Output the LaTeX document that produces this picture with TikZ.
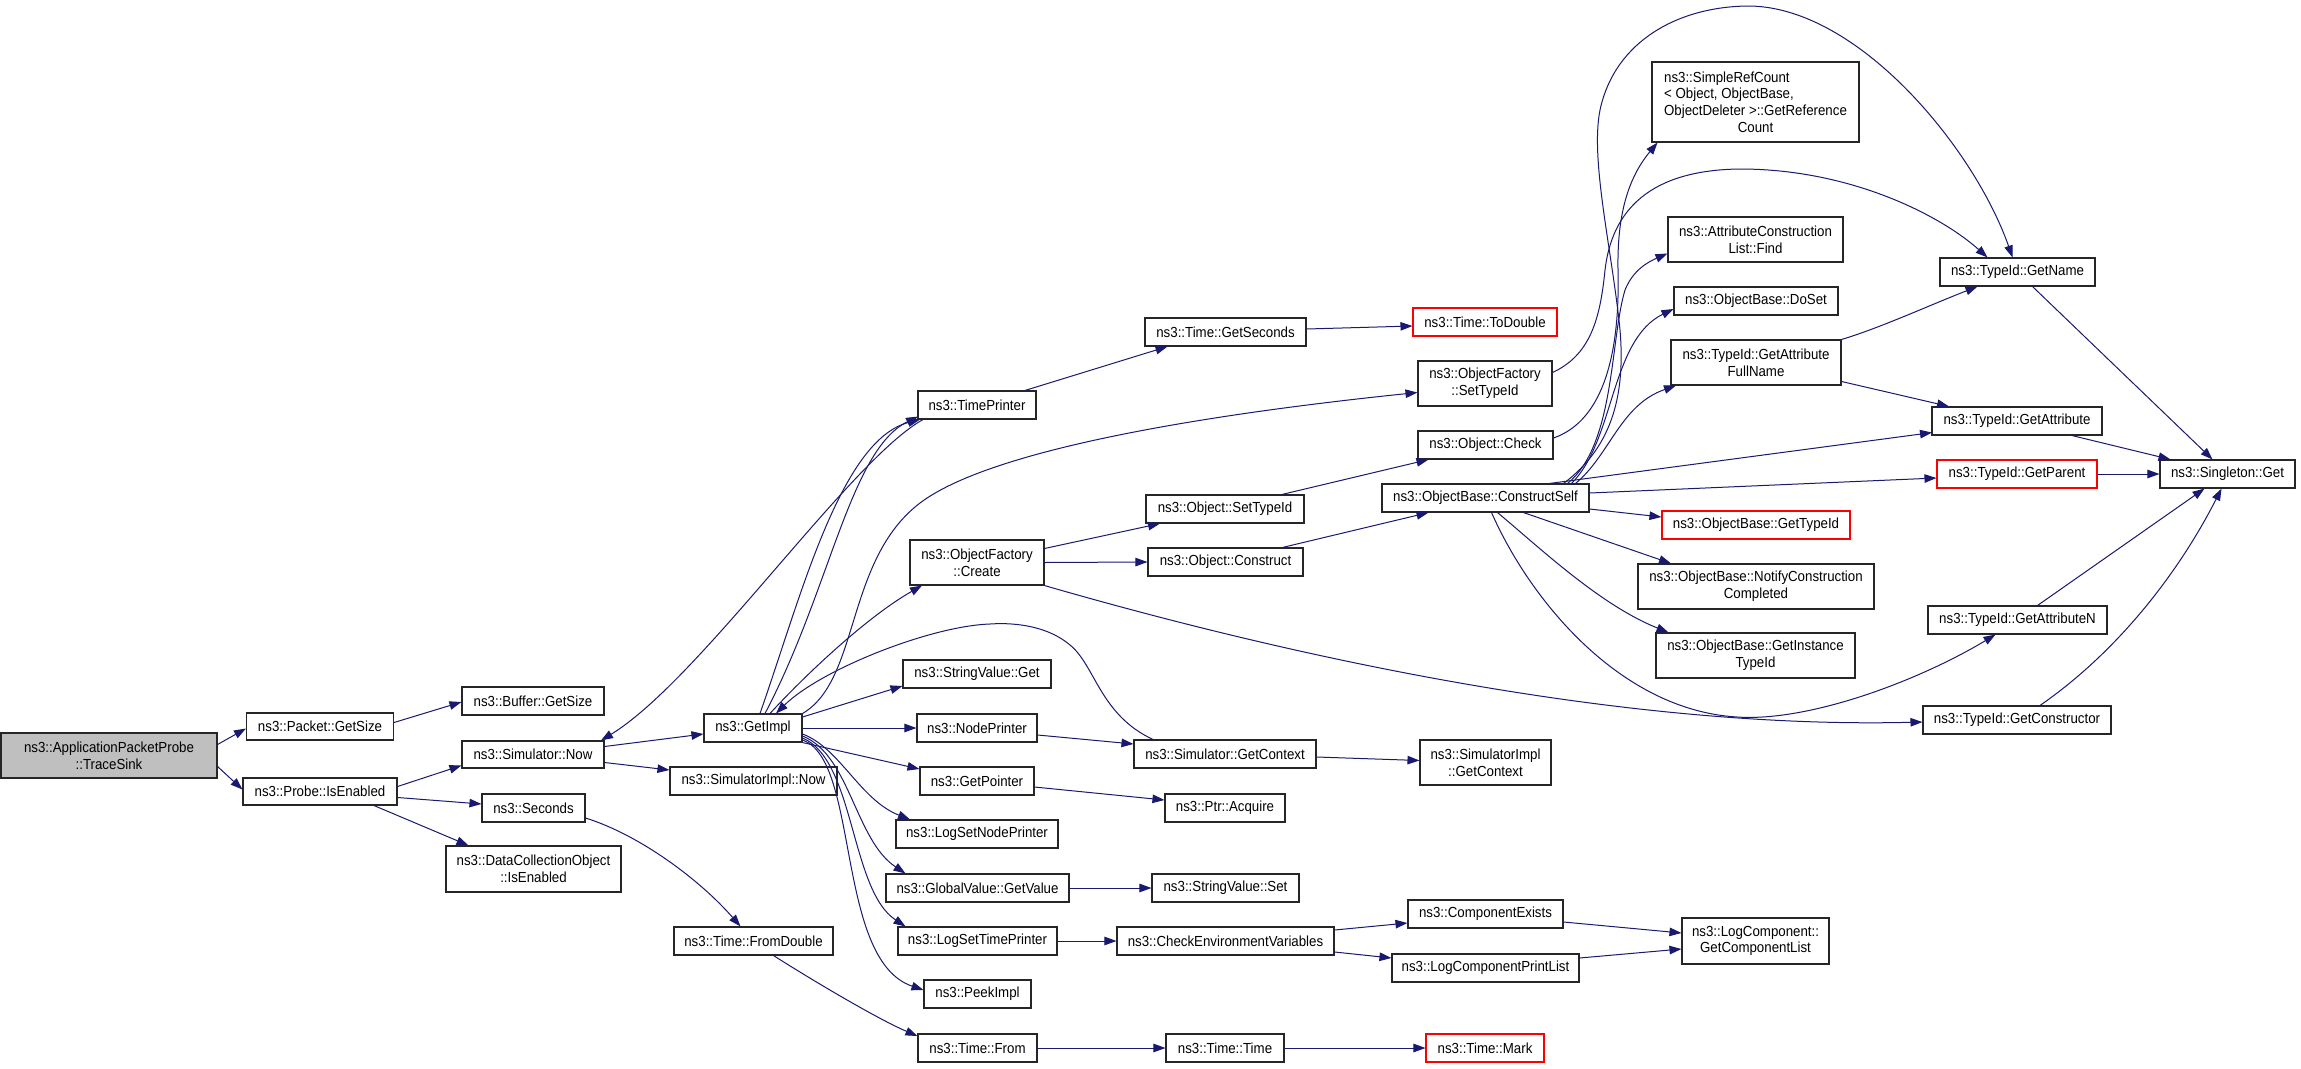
\documentclass[tikz,border=0pt]{standalone}
\usepackage{fontspec}
\setmainfont{Liberation Sans}[FakeStretch=0.91]
\usetikzlibrary{arrows.meta}
\definecolor{edgeblue}{RGB}{25,25,112}
\definecolor{rootgray}{RGB}{191,191,191}
\begin{document}
\begin{tikzpicture}[x=1pt,y=-1pt,
  box/.style={draw=black!85, line width=1.1pt, inner sep=0pt, align=center,
    font=\fontsize{14.6}{16.7}\selectfont, fill=white},
  redbox/.style={box, draw=red},
  rootbox/.style={box, fill=rootgray},
  callarrow/.style={draw=edgeblue, line width=1pt, -{Triangle[length=12pt,width=8.5pt]}}]
\useasboundingbox (0,0) rectangle (2301,1068);
\fill[white] (0,0) rectangle (2301,1068);

% rank 0-1
\node[rootbox, minimum width=216pt, minimum height=45pt] (root) at (109,755.5) {ns3::ApplicationPacketProbe\\::TraceSink};
\node[box, minimum width=147pt, minimum height=27pt] (packet) at (320,726.5) {ns3::Packet::GetSize};
\node[box, minimum width=154pt, minimum height=27pt] (isen) at (320,791.5) {ns3::Probe::IsEnabled};
% rank 2
\node[box, minimum width=142pt, minimum height=28pt] (buffer) at (533,701) {ns3::Buffer::GetSize};
\node[box, minimum width=142pt, minimum height=27pt] (now) at (533,754.5) {ns3::Simulator::Now};
\node[box, minimum width=103pt, minimum height=28pt] (seconds) at (533.5,808) {ns3::Seconds};
\node[box, minimum width=175pt, minimum height=46pt] (dco) at (533.5,869) {ns3::DataCollectionObject\\::IsEnabled};
% rank 3
\node[box, minimum width=98pt, minimum height=28pt] (gimpl) at (753,728) {ns3::GetImpl};
\node[box, minimum width=167pt, minimum height=28pt] (simnow) at (753.5,781) {ns3::SimulatorImpl::Now};
\node[box, minimum width=159pt, minimum height=28pt] (fromdbl) at (753.5,941) {ns3::Time::FromDouble};
% rank 4
\node[box, minimum width=118pt, minimum height=28pt] (tprinter) at (977,405) {ns3::TimePrinter};
\node[box, minimum width=134pt, minimum height=45pt] (create) at (977,562.5) {ns3::ObjectFactory\\::Create};
\node[box, minimum width=148pt, minimum height=28pt] (svget) at (977,674) {ns3::StringValue::Get};
\node[box, minimum width=120pt, minimum height=28pt] (nprinter) at (977,728) {ns3::NodePrinter};
\node[box, minimum width=114pt, minimum height=28pt] (getptr) at (977,781) {ns3::GetPointer};
\node[box, minimum width=162pt, minimum height=28pt] (lsnp) at (977,834) {ns3::LogSetNodePrinter};
\node[box, minimum width=183pt, minimum height=28pt] (gvget) at (977.5,888) {ns3::GlobalValue::GetValue};
\node[box, minimum width=159pt, minimum height=28pt] (lstp) at (977.5,941) {ns3::LogSetTimePrinter};
\node[box, minimum width=107pt, minimum height=28pt] (peek) at (977.5,994) {ns3::PeekImpl};
\node[box, minimum width=119pt, minimum height=28pt] (tfrom) at (977.5,1048) {ns3::Time::From};
% rank 5
\node[box, minimum width=161pt, minimum height=28pt] (getsec) at (1225.5,332) {ns3::Time::GetSeconds};
\node[box, minimum width=158pt, minimum height=28pt] (osettid) at (1225,509) {ns3::Object::SetTypeId};
\node[box, minimum width=155pt, minimum height=28pt] (oconstr) at (1225.5,562) {ns3::Object::Construct};
\node[box, minimum width=182pt, minimum height=28pt] (sgctx) at (1225,754) {ns3::Simulator::GetContext};
\node[box, minimum width=120pt, minimum height=28pt] (acquire) at (1225,808) {ns3::Ptr::Acquire};
\node[box, minimum width=147pt, minimum height=28pt] (svset) at (1225.5,888) {ns3::StringValue::Set};
\node[box, minimum width=217pt, minimum height=28pt] (checkenv) at (1225.5,941) {ns3::CheckEnvironmentVariables};
\node[box, minimum width=118pt, minimum height=28pt] (ttime) at (1225,1048) {ns3::Time::Time};
% rank 6
\node[redbox, minimum width=144pt, minimum height=28pt] (todouble) at (1485,322) {ns3::Time::ToDouble};
\node[box, minimum width=134pt, minimum height=45pt] (ofsettid) at (1485,383.5) {ns3::ObjectFactory\\::SetTypeId};
\node[box, minimum width=135pt, minimum height=28pt] (ocheck) at (1485.5,445) {ns3::Object::Check};
\node[box, minimum width=207pt, minimum height=28pt] (cself) at (1485.5,498) {ns3::ObjectBase::ConstructSelf};
\node[box, minimum width=131pt, minimum height=45pt] (sigctx) at (1485.5,762.5) {ns3::SimulatorImpl\\::GetContext};
\node[box, minimum width=155pt, minimum height=28pt] (compex) at (1485.5,914) {ns3::ComponentExists};
\node[box, minimum width=187pt, minimum height=28pt] (lcpl) at (1485.5,968) {ns3::LogComponentPrintList};
\node[redbox, minimum width=118pt, minimum height=28pt] (mark) at (1485,1048) {ns3::Time::Mark};
% rank 7
\node[box, minimum width=207pt, minimum height=80pt] (src) at (1755.5,102)
  {\rlap{ns3::SimpleRefCount}\phantom{ObjectDeleter >::GetReference}\\
   \rlap{< Object, ObjectBase,}\phantom{ObjectDeleter >::GetReference}\\
   ObjectDeleter >::GetReference\\ Count};
\node[box, minimum width=175pt, minimum height=45pt] (find) at (1755.5,239.5) {ns3::AttributeConstruction\\List::Find};
\node[box, minimum width=164pt, minimum height=28pt] (doset) at (1756,301) {ns3::ObjectBase::DoSet};
\node[box, minimum width=170pt, minimum height=45pt] (gafn) at (1756,362.5) {ns3::TypeId::GetAttribute\\FullName};
\node[redbox, minimum width=188pt, minimum height=28pt] (obgtid) at (1756,525) {ns3::ObjectBase::GetTypeId};
\node[box, minimum width=236pt, minimum height=45pt] (notify) at (1756,586.5) {ns3::ObjectBase::NotifyConstruction\\Completed};
\node[box, minimum width=199pt, minimum height=45pt] (ginst) at (1755.5,655.5) {ns3::ObjectBase::GetInstance\\TypeId};
\node[box, minimum width=147pt, minimum height=46pt] (gclist) at (1755.5,941) {ns3::LogComponent::\\GetComponentList};
% rank 8
\node[box, minimum width=155pt, minimum height=28pt] (gname) at (2017.5,272) {ns3::TypeId::GetName};
\node[box, minimum width=170pt, minimum height=28pt] (gattr) at (2017,421) {ns3::TypeId::GetAttribute};
\node[redbox, minimum width=160pt, minimum height=28pt] (gparent) at (2017,474) {ns3::TypeId::GetParent};
\node[box, minimum width=179pt, minimum height=28pt] (gattrn) at (2017.5,620) {ns3::TypeId::GetAttributeN};
\node[box, minimum width=188pt, minimum height=28pt] (gctor) at (2017,720) {ns3::TypeId::GetConstructor};
% rank 9
\node[box, minimum width=135pt, minimum height=28pt] (single) at (2227.5,474) {ns3::Singleton::Get};

% edges
\draw[callarrow] ([yshift=11pt]root.east) -- ([yshift=-2pt]packet.west);
\draw[callarrow] ([yshift=-11pt]root.east) -- ([yshift=2pt]isen.west);
\draw[callarrow] ([yshift=4pt]packet.east) -- ([yshift=-1pt]buffer.west);
\draw[callarrow] ([yshift=5pt]isen.east) -- ([yshift=-11pt]now.west);
\draw[callarrow] ([yshift=-6pt]isen.east) -- ([yshift=4pt]seconds.west);
\draw[callarrow] ([xshift=54pt]isen.south) -- ([xshift=-65pt]dco.north);
\draw[callarrow] ([yshift=8pt]now.east) -- ([yshift=-6pt]gimpl.west);
\draw[callarrow] ([yshift=-8pt]now.east) -- ([yshift=11pt]simnow.west);
\draw[callarrow] ([xshift=-54pt]tprinter.south) .. controls (850,460) and (700,680) .. ([xshift=68pt]now.north);
\draw[callarrow] ([xshift=7pt]gimpl.north) .. controls (800,600) and (840,440) .. ([xshift=-57pt]tprinter.south);
\draw[callarrow] ([xshift=12pt]gimpl.north) .. controls (830,590) and (850,450) .. ([xshift=-59pt,yshift=3pt]tprinter.south);
\draw[callarrow] (gimpl.north east) .. controls (860,680) and (845,560) .. (920,503)
   .. controls (990,450) and (1200,415) .. ([yshift=-9pt]ofsettid.west);
\draw[callarrow] ([xshift=17pt]gimpl.north) .. controls (810,670) and (870,615) .. ([xshift=-55pt]create.south);
\draw[callarrow] ([xshift=-72pt]sgctx.north) .. controls (1100,715) and (1095,665) .. (1070,645)
   .. controls (1050,628) and (1020,622) .. (990,624)
   .. controls (930,626) and (820,670) .. ([xshift=23pt]gimpl.north);
\draw[callarrow] ([yshift=11pt]gimpl.east) -- ([yshift=-12pt]svget.west);
\draw[callarrow] (gimpl.east) -- (nprinter.west);
\draw[callarrow] (gimpl.south east) -- ([yshift=12pt]getptr.west);
\draw[callarrow] ([yshift=-6pt]gimpl.east) .. controls (840,748) and (860,800) .. ([xshift=-67pt]lsnp.north);
\draw[callarrow] ([yshift=-8pt]gimpl.east) .. controls (850,755) and (855,840) .. ([xshift=-72pt]gvget.north);
\draw[callarrow] ([yshift=-10pt]gimpl.east) .. controls (855,760) and (850,890) .. ([xshift=-72pt]lstp.north);
\draw[callarrow] ([yshift=-12pt]gimpl.east) .. controls (860,760) and (835,960) .. ([yshift=4pt]peek.west);
\draw[callarrow] ([yshift=-10pt]seconds.east) .. controls (640,835) and (700,880) .. ([xshift=-13pt]fromdbl.north);
\draw[callarrow] ([xshift=20pt]fromdbl.south) .. controls (820,985) and (880,1020) .. ([yshift=12pt]tfrom.west);
\draw[callarrow] (tfrom.east) -- (ttime.west);
\draw[callarrow] (ttime.east) -- (mark.west);
\draw[callarrow] ([xshift=48pt]tprinter.north) -- ([xshift=-58pt]getsec.south);
\draw[callarrow] ([yshift=3pt]getsec.east) -- ([yshift=-4pt]todouble.west);
\draw[callarrow] ([yshift=-7pt]nprinter.east) -- ([yshift=10pt]sgctx.west);
\draw[callarrow] ([yshift=-3pt]sgctx.east) -- ([yshift=2pt]sigctx.west);
\draw[callarrow] ([yshift=-6pt]getptr.east) -- ([yshift=8pt]acquire.west);
\draw[callarrow] (gvget.east) -- (svset.west);
\draw[callarrow] (lstp.east) -- (checkenv.west);
\draw[callarrow] ([yshift=11pt]checkenv.east) -- ([yshift=-9pt]compex.west);
\draw[callarrow] ([yshift=-11pt]checkenv.east) -- ([yshift=10pt]lcpl.west);
\draw[callarrow] ([yshift=-8pt]compex.east) -- ([yshift=8pt]gclist.west);
\draw[callarrow] ([yshift=10pt]lcpl.east) -- ([yshift=-8pt]gclist.west);
\draw[callarrow] ([yshift=14pt]create.east) -- ([xshift=-65pt]osettid.south);
\draw[callarrow] (create.east) -- (oconstr.west);
\draw[callarrow] (create.south east) .. controls (1250,645) and (1600,730) .. ([yshift=-2pt]gctor.west);
\draw[callarrow] ([xshift=57pt]osettid.north) -- ([xshift=-57pt]ocheck.south);
\draw[callarrow] ([xshift=57pt]oconstr.north) -- ([xshift=-57pt]cself.south);
\draw[callarrow] ([yshift=11pt]ofsettid.east) .. controls (1590,355) and (1600,320) .. (1605,270)
   .. controls (1612,210) and (1650,170) .. (1740,169)
   .. controls (1850,169) and (1940,215) .. ([xshift=-30pt]gname.north);
\draw[callarrow] ([xshift=78pt]cself.north) .. controls (1615,445) and (1625,390) .. (1620,330)
   .. controls (1612,250) and (1590,160) .. (1600,110)
   .. controls (1615,40) and (1680,6) .. (1750,6)
   .. controls (1860,8) and (1975,150) .. ([xshift=-5pt]gname.north);
\draw[callarrow] ([yshift=7pt]ocheck.east) .. controls (1605,420) and (1620,350) .. (1618,270)
   .. controls (1617,215) and (1628,178) .. ([xshift=-98pt]src.south);
\draw[callarrow] ([xshift=82pt]cself.north) .. controls (1615,445) and (1610,340) .. (1625,290)
   .. controls (1633,270) and (1648,262) .. ([yshift=-14pt]find.west);
\draw[callarrow] ([xshift=86pt]cself.north) .. controls (1615,440) and (1610,340) .. ([yshift=-8pt]doset.west);
\draw[callarrow] ([xshift=90pt]cself.north) .. controls (1610,455) and (1620,405) .. ([xshift=-80pt]gafn.south);
\draw[callarrow] ([xshift=64pt]cself.north) -- ([xshift=-85pt,yshift=3pt]gattr.south);
\draw[callarrow] ([yshift=5pt]cself.east) -- ([yshift=-4pt]gparent.west);
\draw[callarrow] ([yshift=-11pt]cself.east) -- ([yshift=8pt]obgtid.west);
\draw[callarrow] ([xshift=38pt]cself.south) -- ([xshift=-85pt]notify.north);
\draw[callarrow] ([xshift=12pt]cself.south) .. controls (1540,548) and (1600,605) .. ([xshift=-87pt]ginst.north);
\draw[callarrow] ([xshift=6pt]cself.south) .. controls (1530,600) and (1620,710) .. (1737,717)
   .. controls (1810,722) and (1920,680) .. ([xshift=-22pt]gattrn.south);
\draw[callarrow] (gafn.north east) .. controls (1880,328) and (1930,305) .. ([xshift=-40pt]gname.south);
\draw[callarrow] ([yshift=-19pt]gafn.east) -- ([xshift=-68pt]gattr.north);
\draw[callarrow] ([xshift=15pt]gname.south) -- ([xshift=-15pt]single.north);
\draw[callarrow] ([xshift=55pt]gattr.south) -- ([xshift=-57pt]single.north);
\draw[callarrow] (gparent.east) -- (single.west);
\draw[callarrow] ([xshift=20pt]gattrn.north) -- ([xshift=-23pt]single.south);
\draw[callarrow] ([xshift=23pt]gctor.north) .. controls (2120,650) and (2180,570) .. ([xshift=-6pt]single.south);
\end{tikzpicture}
\end{document}
